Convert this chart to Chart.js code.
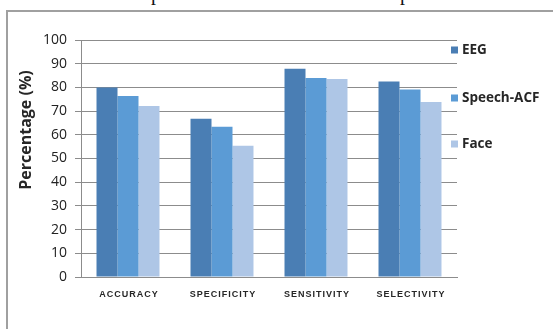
<!DOCTYPE html>
<html>
<head>
<meta charset="utf-8">
<script src="https://cdn.jsdelivr.net/npm/chart.js@4/dist/chart.umd.min.js"></script>
<style>
  html,body{margin:0;padding:0;background:#fff;}
  #wrap{position:relative;width:553px;height:329px;overflow:hidden;}
  #frame{position:absolute;left:6px;top:10px;width:600px;height:400px;border-left:2px solid #a0a0a0;border-top:2px solid #a0a0a0;}
  .cut{position:absolute;top:-17px;font:20px "Liberation Serif",serif;line-height:20px;color:#111;}
  canvas{position:absolute;left:0;top:0;}
</style>
</head>
<body>
<div id="wrap">
  <div id="frame"></div>
  <span class="cut" style="left:151px">p</span>
  <span class="cut" style="left:400px">p</span>
  <canvas id="chart" width="553" height="329"></canvas>
</div>
<script>
const categories = ["ACCURACY","SPECIFICITY","SENSITIVITY","SELECTIVITY"];
const eeg = [80.0, 66.8, 87.9, 82.5];
const speechAcf = [76.4, 63.4, 84.0, 79.1];
const face = [72.2, 55.4, 83.5, 73.8];
const seriesNames = ["EEG","Speech-ACF","Face"];
const colors = ["#4a7eb4","#5b9bd5","#aec6e6"];
const yTicks = [0,10,20,30,40,50,60,70,80,90,100];

// legend + axis labels drawn by hand so they sit where the original has them
const extras = {
  id:"extras",
  afterDraw(chart){
    const ctx = chart.ctx;
    const x = chart.scales.x;
    ctx.save();
    ctx.fillStyle = "#262626";
    ctx.font = "bold 9px 'Liberation Sans', Arial, sans-serif";
    ctx.letterSpacing = "1px";
    ctx.textAlign = "center";
    ctx.textBaseline = "middle";
    categories.forEach((c,i)=>{
      ctx.fillText(c, x.getPixelForTick(i)+1, 295);
    });
    ctx.letterSpacing = "0px";

    ctx.translate(26,130);
    ctx.rotate(-Math.PI/2);
    ctx.font = "bold 16px 'Open Sans', sans-serif";
    ctx.fillText("Percentage (%)", 0, 0);
    ctx.restore();

    ctx.save();
    const ys = [50, 98, 144];
    ctx.font = "bold 13.5px 'Open Sans', sans-serif";
    ctx.textBaseline = "middle";
    ctx.textAlign = "left";
    chart.data.datasets.forEach((d,i)=>{
      ctx.fillStyle = d.backgroundColor;
      ctx.fillRect(451, ys[i]-3.5, 7, 7);
      ctx.fillStyle = "#262626";
      ctx.fillText(d.label, 462, ys[i]+0.5);
    });
    ctx.restore();
  }
};

new Chart(document.getElementById("chart"), {
  type:"bar",
  data:{
    labels:categories,
    datasets:[
      { label:seriesNames[0], data:eeg, backgroundColor:colors[0] },
      { label:seriesNames[1], data:speechAcf, backgroundColor:colors[1] },
      { label:seriesNames[2], data:face, backgroundColor:colors[2] }
    ]
  },
  options:{
    responsive:false,
    animation:false,
    layout:{ padding:{ top:40, right:96, bottom:0, left:0 } },
    datasets:{ bar:{ categoryPercentage:0.67, barPercentage:1.0, borderWidth:0 } },
    plugins:{ legend:{ display:false }, tooltip:{ enabled:false } },
    scales:{
      x:{
        ticks:{ display:false },
        grid:{ display:false, drawTicks:false },
        border:{ color:"#8c8c8c", width:1 },
        afterFit(s){ s.height = 52; }
      },
      y:{
        min:0, max:100,
        afterBuildTicks(s){ s.ticks = yTicks.map(v=>({value:v})); },
        ticks:{ color:"#222", padding:8, font:{ family:"'Open Sans', sans-serif", size:14 } },
        grid:{ color:"#8c8c8c", lineWidth:1, tickLength:6, tickColor:"#8c8c8c" },
        border:{ color:"#8c8c8c", width:1 },
        afterFit(s){ s.width = 81; }
      }
    }
  },
  plugins:[extras]
});
</script>
</body>
</html>
